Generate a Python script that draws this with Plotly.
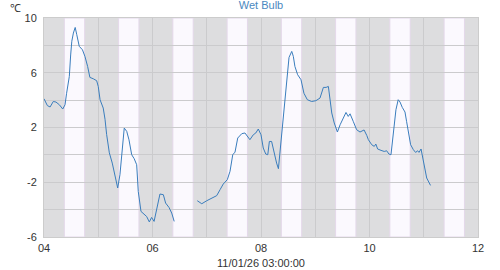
import pandas as pd
import plotly.graph_objects as go

start = pd.Timestamp("2026-01-04 00:00")

# hours since 2026-01-04 00:00 and wet-bulb temperature (°C); None = gap
hours = [0, 1.5, 2.7, 4.1, 5.3, 6.8, 8.3, 9.3, 10, 11.2, 11.8, 12.3, 13, 13.8, 14.5,
         15.6, 17, 18.1, 19.3, 20.3, 21.8, 23.3, 24, 24.8, 26.2, 27, 27.7, 28.9, 30.2,
         31.4, 32.6, 33.6, 34.6, 35.5, 36.6, 37.6, 38.8, 39.9, 41, 41.7, 42.9, 44.4,
         45.4, 46.6, 47.6, 48.7, 49.9, 51.3, 52.8, 53.8, 55.3, 56.5, 57.6,
         62,
         67.8, 69.8, 72, 74.2, 76.4, 77.9, 79.3, 81.1, 82.3, 83.5, 84.5, 85.7, 87.5,
         88.9, 90.1, 91.1, 92.6, 93.7, 94.8, 96, 97, 98.1, 99, 99.7, 100.7, 101.9,
         102.9, 103.7, 104.4, 105.4, 106.3, 107.4, 108.4, 109.6, 110.3, 111, 112.2,
         113.7, 115, 116.5, 118.4, 120.3, 122.1, 123.6, 124.8, 125.8, 126.5, 127.3,
         128.4, 129.8, 131, 132.4, 133.6, 134.6, 135.4, 136.8, 138.3, 139.8, 141.6,
         142.8, 143.5, 145, 146.1, 146.8, 147.6, 149.1, 150.5, 151.6, 152.6, 153.5,
         154.3, 155, 155.7, 156.7, 157.5, 158.5, 159.7, 160.4, 161.2, 162.2, 163.4,
         164.4, 165.3, 165.9, 166.8, 167.4, 168.2, 169.3, 171]
wet_bulb = [4.1, 3.6, 3.5, 3.9, 3.86, 3.66, 3.35, 3.66, 4.5, 5.73, 7.3, 8.3, 8.9, 9.31, 8.78,
            7.93, 7.68, 7.2, 6.46, 5.66, 5.56, 5.42, 5.0, 4.03, 3.42, 2.6, 1.5, 0.15, -0.6,
            -1.57, -2.42, -1.45, 0.25, 1.96, 1.72, 1.1, 0.01, -0.28, -0.72, -2.67, -4.13, -4.32,
            -4.5, -4.9, -4.57, -4.86, -3.88, -2.86, -2.91, -3.52, -3.84, -4.25, -4.86,
            None,
            -3.35, -3.57, -3.35, -3.15, -2.98, -2.54, -2.13, -1.81, -1.2, 0.01, 0.2, 1.23, 1.55,
            1.6, 1.35, 1.11, 1.47, 1.6, 1.89, 1.47, 0.5, 0.06, 0.01, 0.98, 0.98, 0.01,
            -0.6, -1.01, 0.25, 1.96, 3.9, 5.86, 7.12, 7.56, 7.2, 6.46, 5.86,
            5.49, 4.5, 4.03, 3.9, 3.96, 4.15, 4.93, 4.93, 5.0, 4.03, 3.06,
            2.33, 1.67, 2.2, 2.69, 3.1, 2.81, 3.0, 2.45, 1.84, 1.67, 1.82,
            1.42, 1.11, 0.74, 0.62, 0.79, 0.43, 0.33, 0.25, 0.3, 0.06, 0.01,
            1.23, 2.45, 3.3, 4.03, 3.86, 3.47, 3.13, 2.45, 1.6, 0.74, 0.38,
            0.18, 0.3, 0.18, 0.43, -0.1, -0.72, -1.69, -2.23]

band_days = ["2026-01-04", "2026-01-05", "2026-01-06", "2026-01-07",
             "2026-01-08", "2026-01-09", "2026-01-10", "2026-01-11"]
band_start_h, band_end_h = 9, 18

times = [start + pd.Timedelta(hours=h) for h in hours]

fig = go.Figure()
fig.add_trace(go.Scatter(x=times, y=wet_bulb, mode="lines",
                         line=dict(color="#3a7dbd", width=1),
                         connectgaps=False, hoverinfo="skip"))

for d in band_days:
    day = pd.Timestamp(d)
    fig.add_shape(type="rect", xref="x", yref="paper",
                  x0=day + pd.Timedelta(hours=band_start_h),
                  x1=day + pd.Timedelta(hours=band_end_h),
                  y0=0, y1=1, layer="below",
                  fillcolor="#fbf9fe", line=dict(color="#e4d8ea", width=1))

font = dict(family="Liberation Sans, Arial, sans-serif", size=11, color="#333333")

fig.update_layout(
    width=500, height=270,
    margin=dict(l=44, r=22, t=18, b=33, autoexpand=False),
    paper_bgcolor="white", plot_bgcolor="#dddddf",
    showlegend=False, font=font,
    title=dict(text="Wet Bulb", x=0.5, xref="paper", xanchor="center",
               y=1, yref="container", yanchor="top", pad=dict(t=1),
               font=dict(family="Liberation Sans, Arial, sans-serif", size=11, color="#4a88c0")),
    xaxis=dict(range=["2026-01-04", "2026-01-12"], type="date",
               tickformat="%d", dtick=2 * 86400000, tick0="2026-01-04",
               showgrid=True, gridcolor="#cbcbcd", gridwidth=1,
               minor=dict(dtick=86400000, showgrid=True, gridcolor="#cbcbcd", gridwidth=1),
               showline=True, linecolor="#cccccc", mirror=True, zeroline=False,
               ticks="", ticklabelstandoff=1, automargin=False,
               title=dict(text="11/01/26 03:00:00", standoff=6, font=font)),
    yaxis=dict(range=[-6, 10], tickvals=[-6, -2, 2, 6, 10], ticktext=["-6", "-2", "2", "6", "10"],
               showgrid=True, gridcolor="#cbcbcd", gridwidth=1,
               minor=dict(tickvals=[-4, 0, 4, 8], showgrid=True, gridcolor="#cbcbcd", gridwidth=1),
               showline=True, linecolor="#cccccc", mirror=True, zeroline=False,
               ticks="", ticklabelstandoff=4, automargin=False),
)

fig.add_annotation(text="℃", xref="paper", yref="paper", x=-0.066, y=1.0,
                   xanchor="center", yanchor="bottom", showarrow=False,
                   yshift=2, font=font)

fig.write_html("out.html")
